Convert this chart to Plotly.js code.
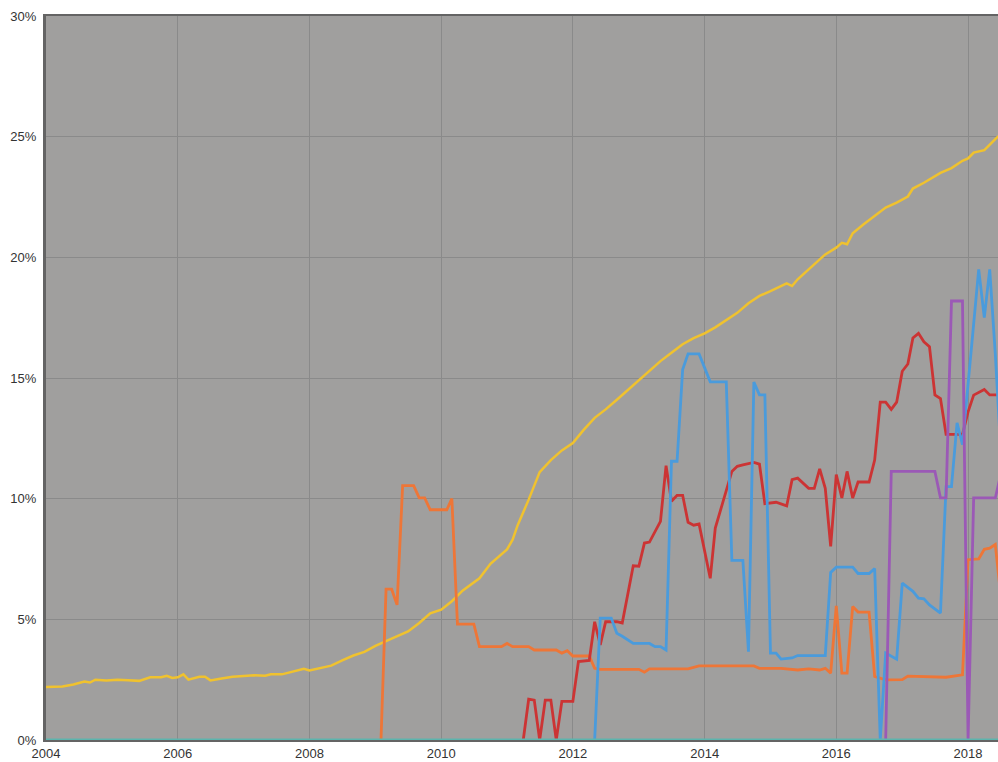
<!DOCTYPE html>
<html>
<head>
<meta charset="utf-8">
<script src="https://cdn.plot.ly/plotly-3.0.1.min.js"></script>
<style>html,body{margin:0;padding:0;background:#fff;}#chart{width:998px;height:762px;}</style>
</head>
<body>
<div id="chart"></div>
<script>
// ---- data (percent values, monthly dates) ----
const yellowDates = ["2004-01","2004-04","2004-06","2004-08","2004-09","2004-10","2004-12","2005-02","2005-04","2005-06","2005-08","2005-10","2005-11","2005-12","2006-01","2006-02","2006-03","2006-05","2006-06","2006-07","2006-09","2006-11","2007-01","2007-03","2007-05","2007-06","2007-08","2007-10","2007-12","2008-01","2008-03","2008-05","2008-07","2008-09","2008-11","2009-01","2009-04","2009-07","2009-09","2009-11","2010-01","2010-03","2010-05","2010-08","2010-10","2011-01","2011-02","2011-03","2011-05","2011-07","2011-09","2011-11","2012-01","2012-03","2012-05","2012-07","2012-09","2012-11","2013-01","2013-03","2013-05","2013-07","2013-09","2013-11","2014-01","2014-03","2014-05","2014-07","2014-09","2014-11","2015-01","2015-03","2015-04","2015-05","2015-06","2015-08","2015-11","2016-01","2016-02","2016-03","2016-04","2016-06","2016-10","2016-12","2017-02","2017-03","2017-05","2017-08","2017-10","2017-12","2018-01","2018-02","2018-04","2018-06","2018-07"];
const yellowValues = [2.2,2.22,2.3,2.42,2.38,2.5,2.47,2.5,2.48,2.45,2.6,2.6,2.66,2.57,2.6,2.72,2.5,2.62,2.62,2.47,2.55,2.62,2.65,2.68,2.66,2.72,2.72,2.82,2.95,2.88,2.98,3.08,3.3,3.5,3.65,3.9,4.2,4.5,4.85,5.25,5.4,5.75,6.2,6.7,7.3,7.9,8.3,8.9,9.96,11.1,11.6,12.0,12.3,12.85,13.35,13.7,14.1,14.5,14.9,15.3,15.7,16.05,16.4,16.65,16.85,17.1,17.4,17.7,18.1,18.4,18.6,18.8,18.92,18.81,19.09,19.5,20.12,20.4,20.6,20.54,21.0,21.37,22.06,22.27,22.52,22.85,23.09,23.5,23.7,24.0,24.1,24.34,24.44,24.9,25.1];

const orangeDates = ["2009-02","2009-03","2009-04","2009-05","2009-06","2009-08","2009-09","2009-10","2009-11","2010-01","2010-02","2010-03","2010-04","2010-07","2010-08","2010-12","2011-01","2011-02","2011-05","2011-06","2011-10","2011-11","2011-12","2012-01","2012-04","2012-05","2012-06","2013-01","2013-02","2013-03","2013-10","2013-12","2014-10","2014-11","2015-03","2015-06","2015-08","2015-10","2015-11","2015-12","2016-01","2016-02","2016-03","2016-04","2016-05","2016-07","2016-08","2016-10","2017-01","2017-02","2017-09","2017-12","2018-01","2018-03","2018-04","2018-05","2018-06","2018-07"];
const orangeValues = [0,6.25,6.25,5.6,10.54,10.54,10.03,10.03,9.54,9.54,9.54,10.0,4.8,4.8,3.87,3.87,4.0,3.87,3.87,3.73,3.73,3.6,3.7,3.48,3.48,2.97,2.93,2.93,2.81,2.95,2.95,3.07,3.07,2.97,2.97,2.9,2.95,2.9,2.97,2.77,5.56,2.77,2.77,5.53,5.3,5.3,2.63,2.49,2.5,2.65,2.6,2.7,7.47,7.5,7.9,7.95,8.1,6.0];

const redDates = ["2011-04","2011-05","2011-06","2011-07","2011-08","2011-09","2011-10","2011-11","2012-01","2012-02","2012-04","2012-05","2012-06","2012-07","2012-09","2012-10","2012-12","2013-01","2013-02","2013-03","2013-05","2013-06","2013-07","2013-08","2013-09","2013-10","2013-11","2013-12","2014-02","2014-03","2014-06","2014-07","2014-08","2014-10","2014-11","2014-12","2015-02","2015-04","2015-05","2015-06","2015-08","2015-09","2015-10","2015-11","2015-12","2016-01","2016-02","2016-03","2016-04","2016-05","2016-07","2016-08","2016-09","2016-10","2016-11","2016-12","2017-01","2017-02","2017-03","2017-04","2017-05","2017-06","2017-07","2017-08","2017-09","2017-12","2018-01","2018-02","2018-04","2018-05","2018-07"];
const redValues = [0,1.69,1.65,0,1.65,1.65,0,1.6,1.6,3.25,3.3,4.9,3.94,4.9,4.9,4.85,7.22,7.2,8.16,8.2,9.06,11.37,9.89,10.14,10.14,9.02,8.9,8.95,6.7,8.78,11.13,11.34,11.4,11.5,11.43,9.79,9.85,9.7,10.79,10.85,10.43,10.43,11.23,10.43,8.02,11.0,10.03,11.13,10.03,10.69,10.69,11.6,14.0,14.0,13.7,14.0,15.28,15.58,16.66,16.85,16.5,16.3,14.3,14.15,12.66,12.66,13.6,14.29,14.52,14.3,14.3];

const blueDates = ["2012-05","2012-06","2012-08","2012-09","2012-10","2012-12","2013-03","2013-04","2013-05","2013-06","2013-07","2013-08","2013-09","2013-10","2013-12","2014-02","2014-05","2014-06","2014-08","2014-09","2014-10","2014-11","2014-12","2015-01","2015-02","2015-03","2015-05","2015-06","2015-11","2015-12","2016-01","2016-04","2016-05","2016-07","2016-08","2016-09","2016-10","2016-12","2017-01","2017-03","2017-04","2017-05","2017-06","2017-08","2017-09","2017-10","2017-11","2017-12","2018-03","2018-04","2018-05","2018-06","2018-07"];
const blueValues = [0,5.05,5.05,4.42,4.3,4.0,4.0,3.87,3.87,3.73,11.55,11.55,15.35,16.0,16.0,14.84,14.84,7.44,7.44,3.66,14.83,14.3,14.3,3.6,3.6,3.35,3.4,3.5,3.5,6.94,7.16,7.16,6.9,6.9,7.1,0,3.6,3.35,6.5,6.16,5.88,5.85,5.6,5.26,10.5,10.5,13.14,12.24,19.5,17.5,19.5,16.0,12.0];

const purpleDates = ["2016-10","2016-11","2017-07","2017-08","2017-09","2017-10","2017-12","2018-01","2018-02","2018-06","2018-07"];
const purpleValues = [0,11.13,11.13,10.03,10.03,18.19,18.19,0,10.03,10.03,11.0];

const tealDates = ["2004-01","2018-07"];
const tealValues = [0,0];

const yTickVals = [0,5,10,15,20,25,30];
const yTickText = ["0%","5%","10%","15%","20%","25%","30%"];
const xTickVals = ["2004-01-01","2006-01-01","2008-01-01","2010-01-01","2012-01-01","2014-01-01","2016-01-01","2018-01-01"];
const xTickText = ["2004","2006","2008","2010","2012","2014","2016","2018"];

function toDate(a){ return a.map(d => d + "-01"); }

function line(dates, vals, color, width){
  return {x: toDate(dates), y: vals, type: "scatter", mode: "lines",
    line: {color: color, width: width, shape: "linear"}, hoverinfo: "skip", showlegend: false, cliponaxis: true};
}

const traces = [
  line(yellowDates, yellowValues, "#f0c22e", 2.5),
  line(orangeDates, orangeValues, "#ee7637", 2.8),
  line(redDates, redValues, "#cc3434", 2.8),
  line(blueDates, blueValues, "#4a9bdc", 2.8),
  line(purpleDates, purpleValues, "#9b59b6", 2.8),
  line(tealDates, tealValues, "#5cb5ae", 3)
];

const layout = {
  width: 998, height: 762,
  margin: {l: 46, r: 0, t: 16, b: 22, pad: 0},
  paper_bgcolor: "#ffffff",
  plot_bgcolor: "#a09f9e",
  showlegend: false,
  font: {family: "Liberation Sans, Arial, sans-serif", size: 13, color: "#333333"},
  xaxis: {
    type: "date",
    range: ["2004-01-01", "2018-06-16"],
    tickvals: xTickVals, ticktext: xTickText,
    showgrid: true, gridcolor: "#8a8a8a", gridwidth: 1,
    zeroline: false,
    showline: true, linecolor: "#646464", linewidth: 2, mirror: true,
    ticks: "", tickfont: {size: 13, color: "#333333"},
    layer: "below traces", fixedrange: true
  },
  yaxis: {
    range: [0, 30],
    tickvals: yTickVals, ticktext: yTickText,
    showgrid: true, gridcolor: "#8a8a8a", gridwidth: 1,
    zeroline: false,
    showline: true, linecolor: "#646464", linewidth: 3, mirror: false,
    ticks: "", ticklabelstandoff: 4, tickfont: {size: 13, color: "#333333"},
    layer: "below traces", fixedrange: true
  }
};

Plotly.newPlot("chart", traces, layout, {displayModeBar: false, staticPlot: true});
</script>
</body>
</html>
